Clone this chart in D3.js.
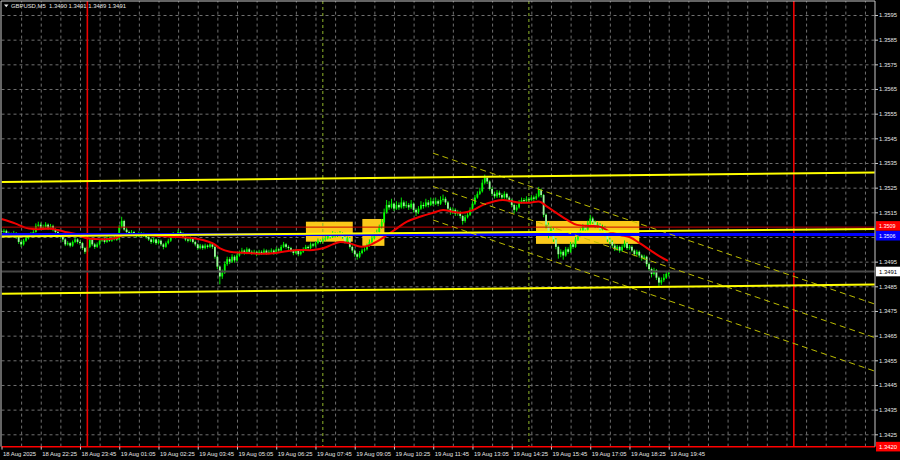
<!DOCTYPE html>
<html><head><meta charset="utf-8">
<script src="https://cdn.jsdelivr.net/npm/d3@7/dist/d3.min.js"></script>
<style>html,body{margin:0;padding:0;background:#000;overflow:hidden}svg{display:block}</style>
</head><body>
<svg id="c" width="900" height="460"></svg>
<script>
// ---------- data ----------
const symbolTitle = "GBPUSD,M5";
const lastBarOHLC = ["1.3490", "1.3491", "1.3489", "1.3491"];
const pipBase = 1.3400;           // prices below are pips above this base
const firstOpenPips = 107.5;      // open of bar 0 (18 Aug 21:05)

// time labels: [bar index, text]  (M5 bars, bar 0 = 18 Aug 21:05)
const timeLabels = [
  [0,"18 Aug 2025"],[16,"18 Aug 22:25"],[32,"18 Aug 23:45"],[48,"19 Aug 01:05"],
  [64,"19 Aug 02:25"],[80,"19 Aug 03:45"],[96,"19 Aug 05:05"],[112,"19 Aug 06:25"],
  [128,"19 Aug 07:45"],[144,"19 Aug 09:05"],[160,"19 Aug 10:25"],[176,"19 Aug 11:45"],
  [192,"19 Aug 13:05"],[208,"19 Aug 14:25"],[224,"19 Aug 15:45"],[240,"19 Aug 17:05"],
  [256,"19 Aug 18:25"],[272,"19 Aug 19:45"]
];
const gridPrices = [1.3425,1.3435,1.3445,1.3455,1.3465,1.3475,1.3485,1.3495,1.3505,
  1.3515,1.3525,1.3535,1.3545,1.3555,1.3565,1.3575,1.3585,1.3595];
// 1.3505 is covered by the price tags in the original, so it has no label
const priceTickLabels = [1.3425,1.3435,1.3445,1.3455,1.3465,1.3475,1.3485,1.3495,
  1.3515,1.3525,1.3535,1.3545,1.3555,1.3565,1.3575,1.3585,1.3595];

const closePips = [107,107.5,106.5,106,105.5,106.5,105,103,102,103.5,
104.5,105.5,106,107,109.5,110,108.5,109,110,108.5,
109.5,108,107,106,105,104,102,102.5,101.5,103,
104,103,102.5,100.5,99,101,104,102,101,102,
103.5,104,103,104.5,103.5,104,105,104,109,111.5,
108,107,106,107,106,105.5,106.5,105.5,106,105,
104,103,104,102.5,103.5,102,101,102.5,103.5,105,
106,105,107,106.5,105,104,103.5,104.5,103,102,
100.5,101.5,100.5,101.5,101,102,101,97,93,89,
90.5,94,96,95,97,95.5,97.5,98.5,99.5,98.5,
100,99,98.5,99,98,99,98.5,99.5,98.5,99,
99.5,98.5,100,99.5,101,102,101,100.5,99.5,98.5,
99.5,98,99,100,101,100.5,102,101.5,102.5,103.5,
103,104,104.5,105.5,105,106.5,105.5,106,106.5,105,
103,104.5,101,99.5,98,97,98.5,99.5,100,101.5,
103,104.5,106,107,109,111,115,118,117,118.5,
116.5,118,117,119,117.5,118,117,118.5,116,115,
116.5,118,117.5,119,118,119.5,118.5,119.5,118.5,120,
120.5,119,116.5,115,116,114.5,115,113.5,111.5,113,
114,116,118.5,121,122.5,123.5,127,129,127.5,124.5,
122.5,121.5,123,122,121,122.5,121,120,118,116,
117,119,120,119.5,120.5,120,121,120.5,121.5,124,
122,114,110,106,108,104,101,98,99,97.5,
100,99,102,101,104,106,107.5,109,108,110.5,
112.5,111,109.5,110,108,109,106,104,103,101.5,
100,101,99.5,101,102.5,100.5,101,99.5,98,99,
97.5,96.5,97,94,92,90,91.5,88.5,86.5,87.5,
88.5,90,91];

const highPips = [108.5,108.3,108,107.2,106.8,107.5,107,105.5,103.6,104.2,
105.3,106.2,107,108,110.5,111.2,110.8,110,111,110.5,
110.3,110,108.5,107.5,106.5,105.6,104.5,103.3,103,103.6,
104.8,104.5,103.6,103,101,101.8,104.8,104.3,102.6,102.8,
104.2,104.8,104.6,105.3,105,104.8,105.8,105.5,109.8,113.2,
112,108.8,107.6,107.8,107.5,106.6,107.2,107,106.8,106.5,
105.6,104.5,104.8,104.4,104.2,104,102.5,103.2,104.3,105.8,
107,106.5,108,107.6,107,105.5,104.6,105.2,105,103.5,
102.4,102.2,102,102.3,102,102.8,102.5,101.5,97.6,93.5,
91.8,95,97,96.8,98,97.6,98.3,99.5,100.6,100,
100.8,100.5,99.6,99.8,99.5,99.8,99.6,100.3,100,99.8,
100.4,100,100.8,100.6,101.8,103,102.5,101.6,101,100,
100.2,100,99.8,100.8,101.8,101.6,102.8,102.6,103.3,104.4,
104,104.8,105.4,106.4,106.2,107.3,107,106.8,107.4,107,
105.5,105.2,105,101.6,100,98.6,99.3,100.3,100.8,102.3,
104,105.5,107,108,110,112.3,116.5,120,119.5,120.5,
119,119.5,119,121,119.8,119.5,118.8,120,119,116.6,
117.5,119.5,119,120.5,120,121,120.5,121,120.2,121.5,
122.2,121.3,119.6,117.2,117,116.6,116,115.6,114,114,
115,117,119.5,122,123.5,125,128.3,130.3,129.6,128,
125.2,123.4,124,123.8,122.7,123.5,123,121.6,120.5,118.6,
118,120,121,120.8,121.5,121.2,122,121.8,122.6,125.3,
124.6,122.4,114.5,110.8,109.5,108.6,104.6,101.5,100,99.6,
101,100.8,103,102.8,105,107,108.5,110.3,109.8,111.6,
114,113.2,111.7,111,110.6,110,109.5,106.6,104.7,103.6,
102.2,101.8,101.5,102,103.6,103,101.8,101.6,100,99.8,
99.5,98,97.8,97.4,94.6,92.6,92.5,92,89,88.6,
90,90.8,91.1];

const lowPips = [106.2,106.5,105.8,105.2,104.8,105,104.2,102.2,101,101.5,
103,104,105,105.5,106.8,109,108,107.8,108.5,107.8,
108,107.3,106.3,105.2,104.3,103,101.3,101.5,100.8,101,
102.5,102.3,101.8,99.8,98.2,98.6,100.5,101.3,100.2,100.6,
101.5,103,102.3,102.6,103,103,103.6,103.4,103.8,108.5,
107.5,106.3,105.4,105.6,105.3,104.8,105,105,105,104.3,
103.4,102.2,102.5,101.8,102,101.3,100,100.6,102,103,
104.5,104.4,104.6,105.8,104.4,103.3,102.8,103,102.4,101.2,
99.8,100,99.8,100,100.3,100.5,100.2,96.2,92,85.8,
88,90,93.3,94,94.5,94.6,95,97,98,97.8,
98,98.3,97.8,98,97.2,97.6,97.8,98,97.8,98,
98.5,97.8,98,98.8,99,100.5,100.3,99.8,98.8,97.6,
98,97.2,97.5,98.5,99.5,99.8,100,100.8,101,102,
102.3,102.5,103.5,104,104.3,104.6,104.8,105,105.3,104.3,
102.3,102.5,100.3,98.6,97,95.8,96.4,98,99,99.5,
101,102.5,104,105.3,106.5,108.4,110.5,114.5,116,116.5,
115.5,116,116,116.5,116.5,116.8,116,116.3,115,113.5,
114.3,116,116.5,117,117,117.5,117.6,118,117.5,118,
119.3,118,115.6,114,114.3,113.5,113.6,112.5,110,110.8,
112.5,113.5,115.5,118,120.5,122,123,126.3,126.5,123.8,
121.6,120.6,120.8,121,120.2,120.5,120.2,119,117,114.5,
115.3,116.5,118.5,118.6,119,119.2,119.5,119.6,120,121,
121,113,108.5,104.5,105.2,103,100,96.2,96.8,95.8,
97,98.2,98.5,100.2,100.6,103.4,105.5,107,107.2,107.5,
110,110.3,108.6,108.8,107.3,107.5,105.3,103,102,100.6,
99.3,99.4,98.6,99,100.6,99.8,99.8,98.8,97.2,97.4,
96.6,95.4,95.6,93,91,88.6,89.4,87.6,85.2,85.6,
86.8,88,89];

// moving average: [bar index, pips]
const maPoints = [[0,112.3],[5.5,110.5],[9.6,108.8],[12.8,108.2],[19.8,108.3],[23,107.8],
  [26.7,106.9],[30.8,106.1],[34,104.7],[40,104.1],[44,104.2],[47,104.7],[49,105.6],
  [54,106],[59,105.8],[64.6,105.4],[68.7,105.1],[76.8,104.7],[82.1,103.8],[86.2,102.4],
  [89.1,100.4],[93.1,99.0],[98.5,98.6],[106.6,98.2],[110.7,98.4],[114.8,99.0],[120.5,99.7],
  [127,99.7],[131,100.4],[135,102],[138,103.0],[142,102.4],[146,101.1],[149,101.3],
  [153,103.1],[157.2,105.8],[161.2,108.5],[165.3,111.2],[170.6,113.2],[175.9,114.8],
  [180,115.9],[184,115.2],[188,114.8],[192.2,115.9],[196.3,118],[200.4,119.3],[204.4,120],
  [211.4,118.9],[215.4,118.9],[219.5,119.3],[222.4,117.3],[226.5,114.6],[230.6,111.9],
  [234.6,109.9],[239.9,109.5],[244,109.2],[248,107.1],[252.2,105.8],[256.2,104.9],
  [260.3,102.4],[264.4,99.7],[268.5,97],[271.7,95.3]];

// yellow support/resistance lines: [[bar, price],[bar, price]]
const levelLines = [
  [[0,1.35273],[356,1.35311]],
  [[0,1.35052],[356,1.35082]],
  [[0,1.34820],[356,1.34857]]
];
// descending dashed channel: [[bar, price],[bar, price]]
const channelLines = [
  [[175.9,1.35390],[356,1.34778]],
  [[175.9,1.35255],[356,1.34642]],
  [[175.9,1.35119],[356,1.34506]]
];
// rectangles: [bar from, bar to, price top, price bottom]
const boxes = [
  [124.1,143.2,1.35112,1.35031],
  [147.1,156.1,1.35123,1.35014],
  [217.9,260.0,1.35115,1.35022]
];
const daySeparators = [35, 323];       // 19 Aug 00:00, 20 Aug 00:00
const sessionMarks = [131, 215];       // 08:00, 15:00
const kijunLevel = 1.3506;
const redLevel = 1.3509;
const bottomLevel = 1.3420;
const bidLevel = 1.3491;

// ---------- layout ----------
const plotLeft = 1.5, plotRight = 875, plotTop = 1, plotBottom = 446.6;
const barStep = 2.453, barsVisible = 356;
const P = v => pipBase + v / 10000;

const svg = d3.select("#c");
svg.append("rect").attr("width",900).attr("height",460).attr("fill","#000");

const x = d3.scaleLinear().domain([0, barsVisible]).range([plotLeft, plotLeft + barsVisible*barStep]);
const y = d3.scaleLinear().domain([1.3425, 1.3595]).range([434.3, 15.0]);

svg.append("clipPath").attr("id","clip").append("rect")
  .attr("x",plotLeft).attr("y",plotTop).attr("width",plotRight-plotLeft).attr("height",plotBottom-plotTop);

const FONT = "'Liberation Sans', Arial, sans-serif";
const FS = 5.9;

// grid
const gridG = svg.append("g").attr("clip-path","url(#clip)");
gridG.append("g").attr("transform",`translate(0,${plotBottom})`)
  .call(d3.axisBottom(x).tickValues(d3.range(8, barsVisible+1, 8)).tickSize(-(plotBottom-plotTop)).tickFormat(""))
  .call(g=>{g.select(".domain").remove(); g.selectAll("line").attr("stroke","#707070").attr("stroke-dasharray","3,3");});
gridG.append("g").attr("transform",`translate(${plotLeft},0)`)
  .call(d3.axisRight(y).tickValues(gridPrices).tickSize(plotRight-plotLeft).tickFormat(""))
  .call(g=>{g.select(".domain").remove(); g.selectAll("line").attr("stroke","#707070").attr("stroke-dasharray","3,3");});

const plot = svg.append("g").attr("clip-path","url(#clip)");

// rectangles (background)
plot.selectAll("rect.box").data(boxes).join("rect").attr("class","box")
  .attr("x",d=>x(d[0])).attr("width",d=>x(d[1])-x(d[0]))
  .attr("y",d=>y(d[2])).attr("height",d=>y(d[3])-y(d[2]))
  .attr("fill","#fbc91a");

// candles
const bars = closePips.map((c,i)=>({i, o: i===0 ? firstOpenPips : closePips[i-1], c, h: highPips[i], l: lowPips[i]}));
plot.selectAll("line.wick").data(bars).join("line").attr("class","wick")
  .attr("x1",d=>x(d.i)).attr("x2",d=>x(d.i))
  .attr("y1",d=>y(P(d.h))).attr("y2",d=>y(P(d.l)))
  .attr("stroke","#00e400").attr("stroke-width",1);
plot.selectAll("rect.body").data(bars).join("rect").attr("class","body")
  .attr("x",d=>x(d.i)-0.9).attr("width",1.8)
  .attr("y",d=>y(P(Math.max(d.o,d.c))))
  .attr("height",d=>Math.max(1, y(P(Math.min(d.o,d.c)))-y(P(Math.max(d.o,d.c)))))
  .attr("fill",d=>d.c>=d.o ? "#00ff00" : "#9cf59c");

// vertical markers
plot.selectAll("line.sess").data(sessionMarks).join("line").attr("class","sess")
  .attr("x1",d=>x(d)).attr("x2",d=>x(d)).attr("y1",plotTop).attr("y2",plotBottom)
  .attr("stroke","#8fb52a").attr("stroke-dasharray","3,3").attr("stroke-width",1);
plot.selectAll("line.day").data(daySeparators).join("line").attr("class","day")
  .attr("x1",d=>x(d)).attr("x2",d=>x(d)).attr("y1",plotTop).attr("y2",plotBottom)
  .attr("stroke","#ee0000").attr("stroke-width",1.6);

// bid line
plot.append("line").attr("x1",plotLeft).attr("x2",plotRight).attr("y1",y(bidLevel)).attr("y2",y(bidLevel))
  .attr("stroke","#4a4a4a").attr("stroke-width",2);

// moving average
plot.append("path").datum(maPoints)
  .attr("d", d3.line().x(d=>x(d[0])).y(d=>y(P(d[1]))).curve(d3.curveCatmullRom))
  .attr("fill","none").attr("stroke","#f00000").attr("stroke-width",2);

// red thin level
plot.append("line").attr("x1",plotLeft).attr("x2",plotRight).attr("y1",y(redLevel)).attr("y2",y(redLevel))
  .attr("stroke","#c80000").attr("stroke-width",1);
// blue level
plot.append("line").attr("x1",plotLeft).attr("x2",plotRight).attr("y1",y(kijunLevel)).attr("y2",y(kijunLevel))
  .attr("stroke","#0000ff").attr("stroke-width",2.8);

// channel
plot.selectAll("line.ch").data(channelLines).join("line").attr("class","ch")
  .attr("x1",d=>x(d[0][0])).attr("y1",d=>y(d[0][1]))
  .attr("x2",d=>x(d[1][0])).attr("y2",d=>y(d[1][1]))
  .attr("stroke","#bcbc00").attr("stroke-width",1).attr("stroke-dasharray","6,4");

// yellow levels
plot.selectAll("line.lvl").data(levelLines).join("line").attr("class","lvl")
  .attr("x1",d=>x(d[0][0])).attr("y1",d=>y(d[0][1]))
  .attr("x2",d=>x(d[1][0])).attr("y2",d=>y(d[1][1]))
  .attr("stroke","#ffff00").attr("stroke-width",2);

// bottom red level
svg.append("line").attr("x1",plotLeft).attr("x2",plotRight).attr("y1",y(bottomLevel)).attr("y2",y(bottomLevel))
  .attr("stroke","#ff0000").attr("stroke-width",1.5);

// frame
svg.append("path").attr("d",`M${plotLeft-0.5},${plotBottom}V${plotTop}H${plotRight}V${plotBottom}`)
  .attr("fill","none").attr("stroke","#c8c8c8").attr("stroke-width",1);

// price axis
svg.append("g").attr("transform",`translate(${plotRight},0)`)
  .call(d3.axisRight(y).tickValues(priceTickLabels).tickSize(3).tickPadding(1).tickFormat(d3.format(".4f")))
  .call(g=>{g.select(".domain").remove();
    g.selectAll("line").attr("stroke","#c8c8c8");
    g.selectAll("text").attr("fill","#e6e6e6").attr("font-family",FONT).attr("font-size",FS);});

// time axis
svg.append("g").attr("transform",`translate(0,${plotBottom})`)
  .call(d3.axisBottom(x).tickValues(timeLabels.map(d=>d[0])).tickSize(3).tickPadding(2)
        .tickFormat(i=>timeLabels.find(t=>t[0]===i)[1]))
  .call(g=>{g.select(".domain").remove();
    g.selectAll("line").attr("stroke","#c8c8c8");
    g.selectAll("text").attr("fill","#e6e6e6").attr("font-family",FONT).attr("font-size",FS)
      .attr("text-anchor","start").attr("dx",1);});

// price tags on the axis (the red 1.3509 tag sits partly under the blue 1.3506 tag)
const tags = [
  {p: redLevel, bg:"#ff0000", fg:"#ffffff", shift:-1.2, fs:5.4},
  {p: kijunLevel, bg:"#0000ff", fg:"#ffffff", shift:1.2, fs:5.4},
  {p: bidLevel, bg:"#ffffff", fg:"#000000", shift:0, fs:FS},
  {p: bottomLevel, bg:"#ff0000", fg:"#ffffff", shift:0, fs:FS}
];
const tg = svg.selectAll("g.tag").data(tags).join("g").attr("class","tag")
  .attr("transform",d=>`translate(${plotRight+1},${y(d.p)+d.shift})`);
tg.append("rect").attr("x",0).attr("y",-4.8).attr("width",24).attr("height",9.6).attr("fill",d=>d.bg);
tg.append("text").attr("x",3).attr("y",0).attr("dy","0.35em").text(d=>d3.format(".4f")(d.p))
  .attr("fill",d=>d.fg).attr("font-family",FONT).attr("font-size",d=>d.fs);

// header
svg.append("path").attr("d","M4,4.5h4.5l-2.25,2.8z").attr("fill","#e6e6e6");
svg.append("text").attr("x",11).attr("y",8.3)
  .text(`${symbolTitle}  ${lastBarOHLC.join(" ")}`)
  .attr("fill","#e6e6e6").attr("font-family",FONT).attr("font-size",FS).attr("xml:space","preserve");
</script>
</body></html>
